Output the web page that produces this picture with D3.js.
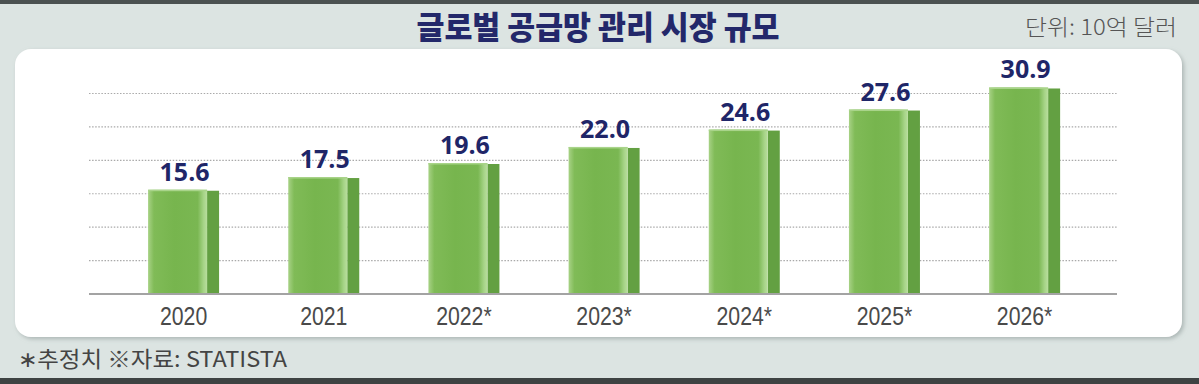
<!doctype html>
<html>
  <head>
    <meta charset="utf-8">
    <script src="https://cdnjs.cloudflare.com/ajax/libs/d3/7.8.5/d3.min.js"></script>
  <style>
    html, body { margin: 0; padding: 0; background: #dce4e2; }
    svg { display: block; }
    .grid line { stroke: #a9a9a9; stroke-width: 1.2; stroke-dasharray: 1.5 1.6; }
    .year { fill: #4a4a4a; font-family: "Liberation Sans", Arial, sans-serif; font-size: 25px; }
    .val { fill: #1f2668; font-family: "Open Sans", "Noto Sans", sans-serif; font-weight: 700; font-size: 25px; }
  </style>
  </head>
  <body>
    <svg id="chart" width="1199" height="384"></svg>
    <script>
      var years = ["2020", "2021", "2022*", "2023*", "2024*", "2025*", "2026*"];
      var market = [15.6, 17.5, 19.6, 22.0, 24.6, 27.6, 30.9];
      var gridTicks = [5, 10, 15, 20, 25, 30];

      var svg = d3.select("#chart");
      var defs = svg.append("defs");

      var face = defs.append("linearGradient").attr("id", "face");
      [["0%", "#a8d286"], ["10%", "#80bb57"], ["45%", "#77b54e"], ["84%", "#7ab752"],
       ["94%", "#a6d487"], ["100%", "#b9de9e"]].forEach(s => {
        face.append("stop").attr("offset", s[0]).attr("stop-color", s[1]);
      });

      var shadow = defs.append("filter").attr("id", "shadow")
        .attr("x", "-5%").attr("y", "-5%").attr("width", "110%").attr("height", "115%");
      shadow.append("feDropShadow").attr("dx", 2).attr("dy", 2)
        .attr("stdDeviation", 2).attr("flood-color", "#8c9896").attr("flood-opacity", 0.6);

      // frame
      svg.append("rect").attr("x", 0).attr("y", 0).attr("width", 1199).attr("height", 4).attr("fill", "#4b5151");
      svg.append("rect").attr("x", 0).attr("y", 378).attr("width", 1199).attr("height", 6).attr("fill", "#3e4343");
      svg.append("rect").attr("x", 15).attr("y", 49).attr("width", 1167).attr("height", 288)
        .attr("rx", 16).attr("fill", "#fff").attr("filter", "url(#shadow)");

      svg.append("text").attr("x", 598).attr("y", 38.5).attr("text-anchor", "middle")
        .attr("textLength", 363).attr("lengthAdjust", "spacingAndGlyphs")
        .style("font-family", "'Noto Sans CJK KR', sans-serif").style("font-weight", 900)
        .style("font-size", "32px").style("fill", "#23286a")
        .text("글로벌 공급망 관리 시장 규모");

      svg.append("text").attr("x", 1177).attr("y", 35).attr("text-anchor", "end")
        .attr("textLength", 152).attr("lengthAdjust", "spacingAndGlyphs")
        .style("font-family", "'Noto Sans CJK KR', sans-serif").style("font-weight", 300)
        .style("font-size", "22px").style("fill", "#555")
        .text("단위: 10억 달러");

      svg.append("text").attr("x", 18).attr("y", 367)
        .attr("textLength", 269).attr("lengthAdjust", "spacingAndGlyphs")
        .style("font-family", "'Noto Sans CJK KR', sans-serif").style("font-weight", 400)
        .style("font-size", "22px").style("fill", "#444")
        .text("∗추정치 ※자료: STATISTA");

      var x = d3.scaleBand().domain(years).range([113.5, 1094.7])
        .paddingInner(0.4935).paddingOuter(0.2467);
      var y = d3.scaleLinear().domain([0, 30]).range([294, 93.5]);

      var grid = svg.append("g").attr("class", "grid");
      grid.selectAll("line").data(gridTicks).join("line")
        .attr("x1", 89).attr("x2", 1117)
        .attr("y1", d => y(d)).attr("y2", d => y(d));

      var side = 12;
      var bars = svg.append("g").selectAll("g").data(years).join("g");
      bars.append("rect")
        .attr("x", d => x(d) + x.bandwidth() - side)
        .attr("width", side)
        .attr("y", (d, i) => y(market[i]) + 1)
        .attr("height", (d, i) => y(0) - y(market[i]) - 1)
        .attr("fill", "#63a042");
      bars.append("rect")
        .attr("x", d => x(d))
        .attr("width", x.bandwidth() - side)
        .attr("y", (d, i) => y(market[i]))
        .attr("height", (d, i) => y(0) - y(market[i]))
        .attr("fill", "url(#face)");
      bars.append("rect")
        .attr("x", d => x(d))
        .attr("width", x.bandwidth() - side)
        .attr("y", (d, i) => y(market[i]))
        .attr("height", 1.5)
        .attr("fill", "#a9d48a");

      bars.append("text").attr("class", "val")
        .attr("x", d => x(d) + x.bandwidth() / 2 + 1)
        .attr("y", (d, i) => y(market[i]) - 9)
        .attr("text-anchor", "middle")
        .text((d, i) => market[i].toFixed(1));

      svg.append("line").attr("x1", 89).attr("x2", 1117).attr("y1", y(0)).attr("y2", y(0))
        .attr("stroke", "#a3a3a3").attr("stroke-width", 2);

      bars.append("text").attr("class", "year")
        .attr("transform", d => `translate(${x(d) + x.bandwidth() / 2},325) scale(0.85,1)`)
        .attr("text-anchor", "middle")
        .text(d => d);
    </script>
  </body>
</html>
